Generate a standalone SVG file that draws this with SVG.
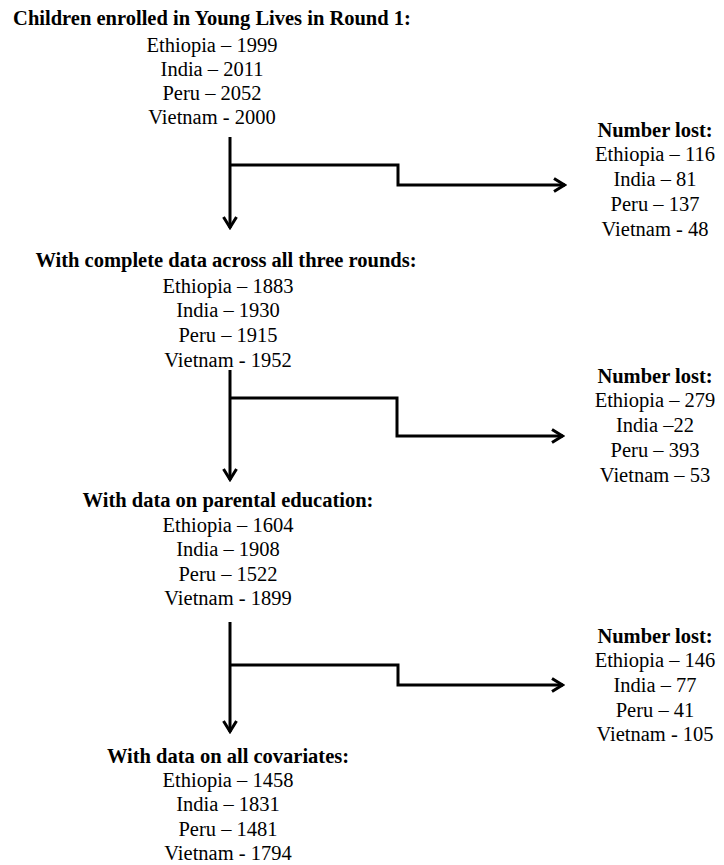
<svg xmlns="http://www.w3.org/2000/svg" width="724" height="865" viewBox="0 0 724 865">
<style>
text{font-family:"Liberation Serif","Times New Roman",serif;font-size:20.5px;fill:#000;text-anchor:middle}
.b{font-weight:bold}
.c{fill:none;stroke:#000;stroke-width:3}
</style>
<defs>
<marker id="ah" viewBox="0 0 14 16" refX="12.5" refY="8" markerWidth="14" markerHeight="16" markerUnits="userSpaceOnUse" orient="auto">
<path d="M1.5,1.5 L12,8 L1.5,14.5" fill="none" stroke="#000" stroke-width="3"/>
</marker>
</defs>
<rect width="724" height="865" fill="#fff"/>
<g id="n1">
<text class="b" x="212" y="25">Children enrolled in Young Lives in Round 1:</text>
<text x="212" y="52">Ethiopia – 1999</text>
<text x="212" y="76">India – 2011</text>
<text x="212" y="100">Peru – 2052</text>
<text x="212" y="124">Vietnam - 2000</text>
</g>
<g id="l1">
<text class="b" x="655" y="137">Number lost:</text>
<text x="655" y="161">Ethiopia – 116</text>
<text x="655" y="186">India – 81</text>
<text x="655" y="211">Peru – 137</text>
<text x="655" y="236">Vietnam - 48</text>
</g>
<g id="n2">
<text class="b" x="226" y="267">With complete data across all three rounds:</text>
<text x="228" y="293">Ethiopia – 1883</text>
<text x="228" y="317">India – 1930</text>
<text x="228" y="342">Peru – 1915</text>
<text x="228" y="367">Vietnam - 1952</text>
</g>
<g id="l2">
<text class="b" x="655" y="383">Number lost:</text>
<text x="655" y="407">Ethiopia – 279</text>
<text x="655" y="432">India –22</text>
<text x="655" y="457">Peru – 393</text>
<text x="655" y="482">Vietnam – 53</text>
</g>
<g id="n3">
<text class="b" x="228" y="507">With data on parental education:</text>
<text x="228" y="532">Ethiopia – 1604</text>
<text x="228" y="556">India – 1908</text>
<text x="228" y="581">Peru – 1522</text>
<text x="228" y="605">Vietnam - 1899</text>
</g>
<g id="l3">
<text class="b" x="655" y="643">Number lost:</text>
<text x="655" y="667">Ethiopia – 146</text>
<text x="655" y="692">India – 77</text>
<text x="655" y="717">Peru – 41</text>
<text x="655" y="741">Vietnam - 105</text>
</g>
<g id="n4">
<text class="b" x="228" y="763">With data on all covariates:</text>
<text x="228" y="787">Ethiopia – 1458</text>
<text x="228" y="811">India – 1831</text>
<text x="228" y="836">Peru – 1481</text>
<text x="228" y="860">Vietnam - 1794</text>
</g>
<g id="connectors">
<path class="c" d="M230,137 V228" marker-end="url(#ah)"/>
<path class="c" d="M230,165 H398 V185 H565" marker-end="url(#ah)"/>
<path class="c" d="M230,370 V480" marker-end="url(#ah)"/>
<path class="c" d="M230,398 H397 V436 H563" marker-end="url(#ah)"/>
<path class="c" d="M230,622 V732" marker-end="url(#ah)"/>
<path class="c" d="M230,665 H398 V685 H563" marker-end="url(#ah)"/>
</g>
</svg>
